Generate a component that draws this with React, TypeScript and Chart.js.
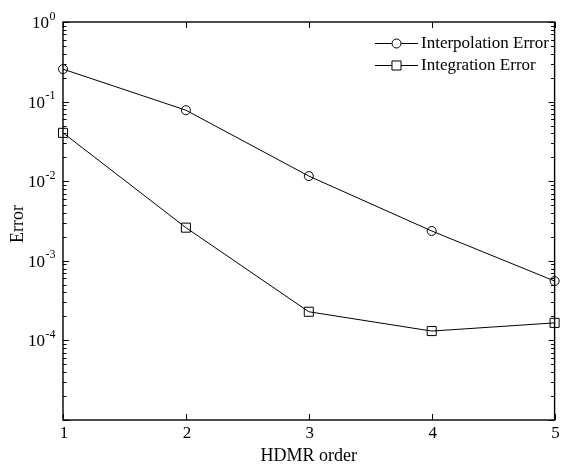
import React, { useEffect, useRef } from "react";
import { Chart, registerables } from "chart.js";

Chart.register(...registerables);

const hdmrOrders = [1, 2, 3, 4, 5];
const interpolationError = [0.256, 0.078, 0.0116, 0.00237, 0.000557];
const integrationError = [0.0405, 0.00261, 0.000229, 0.000131, 0.000166];
const yTickExponents = [0, -1, -2, -3, -4];
const xTickValues = [1, 2, 3, 4, 5];
const seriesLabels = ["Interpolation Error", "Integration Error"];

const FONT = "'Liberation Serif', 'Times New Roman', serif";

const matlabAxesPlugin = {
  id: "matlabAxes",
  afterDraw(chart: any) {
    const { ctx, chartArea } = chart;
    const xs = chart.scales.x;
    const ys = chart.scales.y;
    const { left, right, top, bottom } = chartArea;
    ctx.save();
    ctx.strokeStyle = "#000";
    ctx.fillStyle = "#000";

    // box
    ctx.lineWidth = 1.4;
    ctx.strokeRect(left, top, right - left, bottom - top);

    // y ticks (major + minor), inward, both sides
    ctx.lineWidth = 1;
    const minExp = Math.round(Math.log10(ys.min));
    const maxExp = Math.round(Math.log10(ys.max));
    for (let e = minExp; e <= maxExp; e++) {
      for (let m = 1; m <= 9; m++) {
        const v = m * Math.pow(10, e);
        if (v < ys.min * 0.999 || v > ys.max * 1.001) continue;
        const py = Math.round(ys.getPixelForValue(v)) + 0.5;
        const len = m === 1 ? 6 : 3.5;
        ctx.beginPath();
        ctx.moveTo(left, py);
        ctx.lineTo(left + len, py);
        ctx.moveTo(right, py);
        ctx.lineTo(right - len, py);
        ctx.stroke();
      }
    }
    // x ticks, inward, top and bottom
    xTickValues.forEach((v) => {
      const px = Math.round(xs.getPixelForValue(v)) + 0.5;
      ctx.beginPath();
      ctx.moveTo(px, bottom);
      ctx.lineTo(px, bottom - 6);
      ctx.moveTo(px, top);
      ctx.lineTo(px, top + 6);
      ctx.stroke();
    });

    // y tick labels 10^e
    yTickExponents.forEach((e) => {
      const py = ys.getPixelForValue(Math.pow(10, e));
      ctx.font = `17px ${FONT}`;
      const wBase = ctx.measureText("10").width;
      ctx.font = `12px ${FONT}`;
      const sup = String(e);
      const wSup = ctx.measureText(sup).width;
      const x0 = left - 8 - wBase - wSup;
      ctx.textBaseline = "alphabetic";
      ctx.textAlign = "left";
      ctx.font = `17px ${FONT}`;
      ctx.fillText("10", x0, py + 6);
      ctx.font = `12px ${FONT}`;
      ctx.fillText(sup, x0 + wBase + 0.5, py - 2.5);
    });

    // x tick labels
    ctx.font = `17px ${FONT}`;
    ctx.textAlign = "center";
    ctx.textBaseline = "alphabetic";
    xTickValues.forEach((v) => {
      ctx.fillText(String(v), xs.getPixelForValue(v) + 1, bottom + 18);
    });

    // axis titles
    ctx.font = `18px ${FONT}`;
    ctx.fillText("HDMR order", (left + right) / 2, bottom + 41);
    ctx.save();
    ctx.translate(18, (top + bottom) / 2 + 3);
    ctx.rotate(-Math.PI / 2);
    ctx.textBaseline = "middle";
    ctx.fillText("Error", 0, 0);
    ctx.restore();

    // legend
    const lx0 = 375;
    const lx1 = 418;
    const rows = [43, 65];
    chart.data.datasets.forEach((ds: any, i: number) => {
      const y = rows[i];
      ctx.lineWidth = 1;
      ctx.strokeStyle = "#000";
      ctx.beginPath();
      ctx.moveTo(lx0, y + 0.5);
      ctx.lineTo(lx1, y + 0.5);
      ctx.stroke();
      const cx = (lx0 + lx1) / 2;
      ctx.beginPath();
      if (ds.pointStyle === "circle") {
        ctx.arc(cx, y + 0.5, ds.pointRadius, 0, Math.PI * 2);
      } else {
        const s = ds.pointRadius * Math.SQRT1_2;
        ctx.rect(cx - s, y + 0.5 - s, 2 * s, 2 * s);
      }
      ctx.fillStyle = "#fff";
      ctx.fill();
      ctx.stroke();
      ctx.fillStyle = "#000";
      ctx.font = `17px ${FONT}`;
      ctx.textAlign = "left";
      ctx.textBaseline = "middle";
      ctx.fillText(ds.label, lx1 + 3, y + 1);
    });

    ctx.restore();
  },
};

export default function App() {
  const canvasRef = useRef<HTMLCanvasElement | null>(null);

  useEffect(() => {
    if (!canvasRef.current) return;
    const chart = new Chart(canvasRef.current, {
      type: "line",
      data: {
        datasets: [
          {
            label: seriesLabels[0],
            data: hdmrOrders.map((x, i) => ({ x, y: interpolationError[i] })),
            borderColor: "#000",
            borderWidth: 1,
            pointStyle: "circle",
            pointRadius: 4.5,
            pointBorderWidth: 1,
            pointBorderColor: "#000",
            pointBackgroundColor: "rgba(0,0,0,0)",
            fill: false,
            tension: 0,
            clip: false,
          },
          {
            label: seriesLabels[1],
            data: hdmrOrders.map((x, i) => ({ x, y: integrationError[i] })),
            borderColor: "#000",
            borderWidth: 1,
            pointStyle: "rect",
            pointRadius: 6.4,
            pointBorderWidth: 1,
            pointBorderColor: "#000",
            pointBackgroundColor: "rgba(0,0,0,0)",
            fill: false,
            tension: 0,
            clip: false,
          },
        ] as any,
      },
      options: {
        animation: false,
        responsive: false,
        devicePixelRatio: 1,
        layout: { padding: { left: 63, top: 22, right: 1, bottom: 46 } },
        plugins: {
          legend: { display: false },
          tooltip: { enabled: false },
        },
        scales: {
          x: { type: "linear", min: 1, max: 5, display: false },
          y: { type: "logarithmic", min: 1e-5, max: 1, display: false },
        },
      },
      plugins: [matlabAxesPlugin],
    });
    return () => chart.destroy();
  }, []);

  return (
    <div style={{ position: "fixed", left: 0, top: 0, width: 562, height: 466, background: "#fff" }}>
      <canvas ref={canvasRef} width={562} height={466} />
    </div>
  );
}
